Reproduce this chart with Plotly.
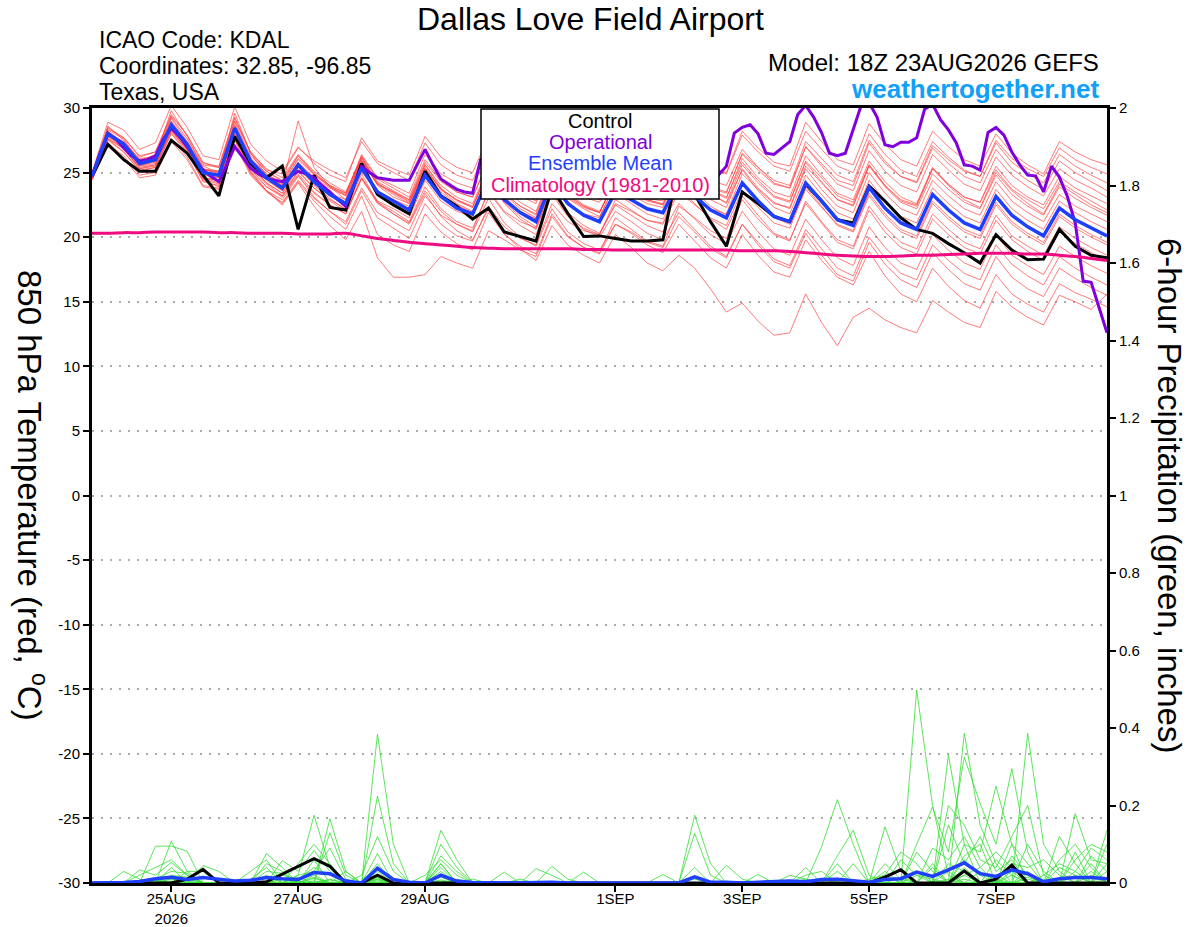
import pandas as pd
import plotly.graph_objects as go

# ---------------- time axis ----------------
START = "2026-08-23 18:00"
times = pd.date_range(START, periods=65, freq="6h")
times_op = pd.date_range(START, periods=129, freq="3h")

# ---------------- 850 hPa temperature (deg C) ----------------
ens_mean_t = [
    24.7, 28.0, 27.2, 25.7, 26.0, 28.7, 27.2, 25.0, 24.8, 28.45, 25.9, 24.6, 23.8,
    25.6, 24.3, 23.3, 22.6, 25.35, 23.5, 22.8, 22.1, 24.8, 23.15, 22.25, 21.8, 24.6,
    22.9, 21.9, 21.2, 24.3, 22.6, 21.7, 21.2, 23.5, 22.9, 22.2, 21.9, 24.3, 23.2,
    22.1, 21.5, 24.2, 22.8, 21.6, 21.2, 24.2, 22.8, 21.35, 20.9, 23.85, 22.25, 21.1,
    20.6, 23.3, 22.1, 21.1, 20.6, 23.15, 21.7, 20.8, 20.1, 22.25, 21.35, 20.7, 20.1,
]

control_t = [
    24.7, 27.2, 26.0, 25.1, 25.1, 27.5, 26.5, 24.8, 23.2, 27.8, 25.7, 24.6, 25.5,
    20.6, 24.8, 22.3, 22.1, 25.7, 23.3, 22.5, 21.8, 25.1, 23.2, 22.4, 21.4, 22.25,
    20.4, 20.05, 19.7, 23.8, 21.85, 20.05, 20.1, 19.9, 19.7, 19.7, 19.8, 25.7, 23.3,
    21.2, 19.3, 23.5, 22.6, 21.6, 21.2, 24.1, 22.8, 21.35, 21.1, 23.95, 22.8, 21.5,
    20.6, 20.3, 19.5, 18.8, 18.0, 20.2, 19.0, 18.25, 18.3, 20.6, 19.3, 18.6, 18.4,
]

# operational run, 3-hourly
operational_t = [
    24.7, 26.5, 28.05, 27.6, 26.9, 26.3, 25.9, 26.0, 26.3, 27.6, 28.45, 27.8, 27.0, 26.1, 25.2, 24.7,
    24.3, 25.6, 27.0, 26.2, 25.35, 24.9, 24.6, 24.4, 24.3, 24.7, 25.1, 24.9, 24.6, 24.0, 23.5, 22.9,
    22.4, 24.0, 25.5, 25.0, 24.6, 24.5, 24.4, 24.4, 24.4, 25.6, 26.8, 25.6, 24.5, 24.1, 23.7, 23.5,
    23.4, 26.0, 26.5, 25.8, 25.2, 24.9, 24.6, 24.4, 24.2, 25.7, 27.2, 26.4, 25.6, 25.2, 24.9, 24.7,
    24.5, 25.5, 26.6, 25.9, 25.3, 25.0, 24.7, 24.4, 24.2, 25.2, 26.2, 25.7, 25.3, 25.0, 24.9, 24.8,
    25.5, 28.06, 28.5, 28.7, 28.0, 26.5, 26.4, 26.9, 27.4, 29.5, 30.2, 29.3, 28.1, 26.5, 26.3, 26.5,
    28.4, 30.2, 30.4, 29.3, 27.15, 27.0, 27.35, 27.35, 27.7, 29.9, 30.3, 29.1, 28.3, 27.3, 25.6, 25.5,
    25.2, 28.1, 28.5, 27.9, 26.6, 25.6, 24.8, 24.75, 23.5, 25.5, 24.65, 23.15, 21.1, 16.6, 16.5, 14.6,
    12.6,
]

climatology_t = [
    20.3, 20.3, 20.35, 20.35, 20.4, 20.4, 20.4, 20.4, 20.35, 20.35, 20.3, 20.3, 20.3,
    20.25, 20.25, 20.25, 20.3, 20.1, 19.9, 19.75, 19.6, 19.5, 19.4, 19.3, 19.2, 19.15,
    19.1, 19.1, 19.1, 19.1, 19.1, 19.05, 19.05, 19.0, 19.0, 19.0, 19.0, 19.0, 19.0,
    19.0, 19.0, 18.95, 18.95, 18.95, 18.9, 18.8, 18.7, 18.6, 18.55, 18.5, 18.5, 18.55,
    18.6, 18.6, 18.65, 18.7, 18.75, 18.75, 18.75, 18.7, 18.7, 18.6, 18.5, 18.35, 18.2,
]

temp_members = [
    [24.8, 28.3, 27.6, 25.9, 26.4, 29.2, 27.4, 25.5, 25.0, 28.9, 26.3, 25.1, 24.3,
     26.3, 25.0, 24.0, 23.4, 26.3, 24.5, 23.8, 23.1, 26.0, 24.4, 23.5, 23.1, 26.0,
     24.4, 23.4, 22.8, 25.9, 24.2, 23.3, 22.9, 25.2, 24.6, 24.0, 23.7, 26.4, 25.4,
     24.4, 24.0, 26.8, 25.4, 24.2, 23.8, 27.0, 25.5, 24.1, 23.6, 26.7, 25.1, 24.0,
     23.5, 26.4, 25.2, 24.1, 23.6, 26.2, 24.8, 23.9, 23.2, 25.3, 24.4, 23.8, 23.1],
    [24.6, 27.6, 26.9, 25.3, 25.6, 28.2, 26.8, 24.6, 24.4, 27.9, 25.4, 24.1, 23.2,
     24.9, 23.5, 22.5, 21.8, 24.5, 22.6, 21.8, 21.1, 23.6, 22.0, 21.0, 20.4, 23.0,
     21.1, 20.0, 19.3, 22.2, 20.4, 19.5, 19.0, 21.0, 20.3, 19.4, 18.8, 21.0, 19.7,
     18.4, 17.6, 20.2, 18.6, 17.3, 16.9, 19.8, 18.2, 16.9, 16.3, 18.9, 17.0, 15.6,
     15.0, 17.6, 16.2, 15.1, 14.5, 17.1, 15.6, 14.8, 14.2, 16.4, 15.7, 15.2, 14.6],
    [24.9, 28.6, 27.5, 25.8, 26.2, 29.8, 27.8, 25.3, 24.9, 29.6, 26.5, 24.8, 24.0,
     29.0, 25.4, 23.9, 22.9, 26.2, 24.0, 23.1, 22.6, 25.6, 23.8, 22.8, 22.3, 25.4,
     23.4, 22.4, 21.8, 25.2, 23.3, 22.4, 21.9, 24.5, 23.8, 23.0, 22.8, 25.6, 24.6,
     23.6, 23.0, 26.1, 24.6, 23.5, 23.1, 26.3, 24.8, 23.4, 22.9, 25.9, 24.3, 23.1,
     22.6, 25.4, 24.1, 23.1, 22.7, 25.2, 23.7, 22.9, 22.2, 24.3, 23.5, 22.8, 22.1],
    [24.5, 27.5, 26.6, 25.2, 25.4, 28.0, 26.5, 24.4, 23.9, 27.6, 25.0, 23.6, 22.5,
     24.2, 22.4, 20.9, 19.8, 22.0, 18.4, 16.9, 16.9, 17.1, 18.5, 18.0, 17.6, 20.5,
     19.8, 19.0, 18.5, 21.6, 20.0, 19.2, 18.8, 21.5, 20.6, 19.7, 19.3, 22.4, 21.5,
     20.5, 19.9, 22.9, 21.4, 20.2, 19.7, 22.8, 21.2, 19.8, 19.3, 22.4, 20.8, 19.6,
     19.1, 21.8, 20.6, 19.6, 19.1, 21.7, 20.1, 19.3, 18.6, 20.8, 19.9, 19.2, 18.6],
    [24.8, 28.1, 27.4, 26.0, 26.3, 29.0, 27.3, 25.3, 25.1, 28.7, 26.1, 24.9, 24.1,
     26.0, 24.8, 23.9, 23.3, 26.4, 24.6, 24.0, 23.4, 26.4, 24.9, 24.2, 23.8, 26.8,
     25.1, 24.1, 23.5, 26.7, 25.1, 24.2, 23.8, 26.3, 25.7, 25.0, 24.7, 27.4, 26.5,
     25.5, 25.0, 28.2, 26.9, 25.8, 25.5, 28.9, 27.4, 26.0, 25.6, 28.8, 27.2, 26.0,
     25.5, 28.2, 27.0, 26.0, 25.5, 28.0, 26.5, 25.6, 24.9, 27.4, 26.6, 26.0, 25.6],
    [24.7, 27.9, 27.0, 25.6, 25.8, 28.5, 27.0, 24.9, 24.6, 28.2, 25.6, 24.2, 23.4,
     25.1, 23.8, 22.8, 22.0, 24.6, 22.7, 21.8, 21.0, 23.4, 21.6, 20.5, 19.8, 22.2,
     20.3, 19.1, 18.2, 20.9, 19.4, 18.6, 18.0, 20.2, 19.2, 18.0, 17.4, 18.6, 17.6,
     16.0, 14.2, 14.9, 13.5, 12.4, 12.6, 15.6, 13.4, 11.6, 13.8, 14.5, 13.6, 13.0,
     12.6, 15.1, 14.2, 13.4, 13.0, 15.8, 14.6, 13.8, 13.2, 15.5, 15.0, 14.4, 15.6],
    [24.6, 27.8, 27.1, 25.5, 25.9, 28.4, 27.0, 24.8, 24.6, 28.3, 25.7, 24.4, 23.6,
     25.3, 24.1, 23.2, 22.4, 25.1, 23.4, 22.9, 22.1, 24.6, 23.1, 22.4, 21.9, 24.9,
     23.1, 22.0, 21.4, 24.7, 23.0, 22.2, 21.6, 24.0, 23.3, 22.6, 22.3, 25.0, 23.9,
     22.9, 22.3, 25.3, 23.8, 22.7, 22.2, 25.3, 23.7, 22.4, 21.9, 25.0, 23.4, 22.2,
     21.7, 24.4, 23.2, 22.2, 21.7, 24.3, 22.8, 21.9, 21.2, 23.3, 22.4, 21.8, 21.2],
    [24.9, 28.4, 27.7, 26.3, 26.6, 29.4, 27.9, 25.8, 25.4, 29.0, 26.6, 25.3, 24.6,
     26.4, 25.1, 24.2, 23.5, 26.1, 24.2, 23.4, 22.8, 25.4, 23.7, 22.6, 22.0, 24.6,
     22.7, 21.6, 20.8, 23.7, 21.9, 20.9, 20.3, 22.5, 21.7, 20.9, 20.4, 22.6, 21.4,
     20.2, 19.5, 22.0, 20.4, 19.1, 18.6, 21.4, 19.8, 18.4, 17.8, 20.8, 19.2, 18.0,
     17.5, 20.2, 19.0, 18.0, 17.5, 20.2, 18.6, 17.8, 17.1, 19.3, 18.5, 17.8, 17.2],
    [24.5, 27.0, 26.1, 24.6, 24.8, 27.4, 26.0, 23.9, 23.7, 27.2, 24.8, 23.5, 22.7,
     24.4, 23.0, 22.0, 21.2, 23.8, 21.9, 21.2, 20.5, 23.2, 21.7, 21.0, 20.5, 23.6,
     22.0, 21.2, 20.7, 24.0, 22.5, 21.8, 21.5, 24.2, 23.4, 22.8, 22.5, 25.4, 24.6,
     23.8, 23.4, 26.5, 25.4, 24.4, 24.0, 27.4, 26.1, 24.8, 24.3, 27.5, 25.9, 24.7,
     24.2, 26.9, 25.7, 24.7, 24.2, 26.8, 25.3, 24.4, 23.7, 25.9, 25.0, 24.3, 23.6],
    [24.8, 28.2, 27.3, 26.1, 26.2, 29.3, 27.6, 25.6, 25.4, 29.2, 26.6, 25.2, 24.9,
     26.9, 25.9, 25.2, 24.6, 27.4, 25.7, 25.0, 24.4, 27.3, 25.6, 24.8, 24.4, 27.2,
     25.5, 24.4, 23.7, 26.8, 25.0, 24.0, 23.5, 25.8, 25.0, 24.1, 23.7, 26.0, 24.7,
     23.4, 22.6, 25.2, 23.6, 22.3, 21.8, 24.8, 23.3, 21.9, 21.4, 24.4, 22.8, 21.6,
     21.1, 23.8, 22.6, 21.6, 21.1, 23.7, 22.2, 21.3, 20.6, 22.8, 21.9, 21.2, 20.6],
    [24.6, 27.9, 27.3, 25.8, 26.1, 28.6, 27.3, 25.2, 25.0, 28.4, 26.0, 24.7, 24.0,
     25.8, 24.6, 23.8, 23.2, 26.0, 24.1, 23.3, 22.6, 25.2, 23.5, 22.5, 21.9, 24.5,
     22.6, 21.4, 20.6, 23.5, 21.7, 20.6, 20.0, 22.0, 21.2, 20.3, 19.8, 21.9, 20.6,
     19.3, 18.5, 21.0, 19.4, 18.1, 17.6, 20.3, 18.6, 17.1, 16.6, 19.6, 17.9, 16.7,
     16.1, 18.8, 17.5, 16.4, 15.9, 18.5, 16.9, 16.0, 15.4, 17.6, 16.8, 16.1, 15.5],
    [24.7, 28.1, 27.0, 25.5, 25.7, 28.9, 26.9, 24.6, 24.2, 28.4, 25.3, 23.9, 23.1,
     24.8, 23.1, 22.0, 21.0, 23.6, 21.5, 20.7, 19.9, 22.6, 21.0, 20.1, 19.7, 22.4,
     20.8, 19.9, 19.4, 22.6, 21.2, 20.5, 20.2, 22.9, 22.1, 21.3, 21.1, 23.8, 23.0,
     22.2, 21.8, 24.9, 23.7, 22.6, 22.3, 25.5, 24.2, 22.9, 22.5, 25.6, 24.0, 22.8,
     22.4, 25.3, 24.1, 23.1, 22.7, 25.5, 24.0, 23.1, 22.5, 24.7, 23.8, 23.2, 22.6],
    [24.6, 27.6, 26.6, 25.1, 25.4, 28.1, 26.6, 24.3, 24.0, 27.9, 25.1, 23.9, 23.2,
     25.1, 23.8, 22.9, 22.2, 25.4, 23.6, 22.9, 22.4, 25.3, 23.7, 22.9, 22.3, 25.1,
     23.3, 22.2, 21.5, 24.6, 22.8, 21.7, 21.2, 23.4, 22.6, 21.8, 21.4, 23.8, 22.6,
     21.4, 20.6, 23.2, 21.7, 20.3, 19.8, 22.6, 21.1, 19.6, 19.1, 22.1, 20.4, 19.2,
     18.7, 21.4, 20.2, 19.2, 18.7, 21.3, 19.8, 18.9, 18.2, 20.4, 19.5, 18.8, 18.2],
    [25.0, 28.9, 28.3, 26.8, 27.3, 30.2, 28.5, 26.3, 26.0, 30.1, 27.2, 25.9, 25.1,
     27.0, 25.7, 24.8, 24.3, 27.7, 25.9, 25.3, 24.8, 27.8, 26.2, 25.4, 25.0, 27.8,
     26.0, 25.0, 24.3, 27.4, 25.6, 24.7, 24.2, 26.7, 26.0, 25.3, 25.0, 27.5, 26.5,
     25.5, 24.9, 27.9, 26.6, 25.5, 25.1, 28.2, 26.8, 25.5, 25.0, 28.0, 26.4, 25.2,
     24.7, 27.4, 26.2, 25.2, 24.7, 27.3, 25.8, 24.9, 24.2, 26.4, 25.5, 24.8, 24.2],
    [24.7, 28.0, 27.3, 25.6, 26.1, 28.8, 27.1, 25.1, 24.7, 28.6, 25.8, 24.5, 23.6,
     25.5, 24.0, 23.0, 22.1, 24.9, 22.7, 22.0, 21.2, 23.9, 22.2, 21.2, 20.7, 23.5,
     21.9, 20.9, 20.2, 23.3, 21.6, 20.7, 20.2, 22.6, 22.0, 21.3, 21.0, 23.5, 22.5,
     21.5, 20.9, 23.6, 22.3, 21.1, 20.7, 23.7, 22.3, 21.0, 20.5, 23.4, 21.8, 20.6,
     20.1, 22.8, 21.6, 20.6, 20.1, 22.7, 21.2, 20.3, 19.6, 21.8, 20.9, 20.2, 19.6],
    [24.4, 27.2, 26.3, 24.8, 25.0, 27.6, 26.2, 24.0, 23.8, 27.5, 24.9, 23.6, 22.9,
     24.7, 23.4, 22.5, 21.8, 24.6, 22.8, 22.2, 21.5, 24.4, 22.8, 22.0, 21.6, 24.6,
     22.9, 22.0, 21.4, 24.7, 23.1, 22.3, 21.9, 24.5, 23.9, 23.3, 23.1, 25.7, 24.8,
     23.9, 23.5, 26.4, 25.2, 24.1, 23.8, 27.0, 25.7, 24.4, 24.0, 27.3, 25.7, 24.7,
     24.3, 27.1, 26.0, 25.1, 24.7, 27.5, 26.1, 25.3, 24.7, 26.9, 26.0, 25.4, 24.9],
    [24.8, 28.5, 27.7, 26.2, 26.6, 29.5, 27.9, 25.7, 25.5, 29.3, 26.5, 25.1, 24.4,
     26.3, 24.9, 23.9, 23.2, 25.9, 24.1, 23.5, 22.7, 25.3, 23.7, 22.9, 22.4, 25.1,
     23.4, 22.4, 21.7, 24.9, 23.2, 22.4, 21.9, 24.3, 23.6, 22.9, 22.6, 25.3, 24.3,
     23.3, 22.7, 25.6, 24.2, 23.1, 22.7, 25.8, 24.3, 22.9, 22.4, 25.5, 23.9, 22.7,
     22.2, 24.9, 23.7, 22.7, 22.2, 24.8, 23.3, 22.4, 21.7, 23.9, 23.0, 22.3, 21.7],
    [24.6, 27.7, 26.8, 25.3, 25.5, 28.3, 26.7, 24.6, 24.4, 28.0, 25.5, 24.2, 23.4,
     25.4, 24.2, 23.4, 22.9, 25.9, 24.1, 23.5, 22.9, 25.8, 24.3, 23.5, 23.1, 25.9,
     24.2, 23.2, 22.6, 25.8, 24.0, 23.1, 22.7, 25.1, 24.4, 23.7, 23.4, 25.9, 24.8,
     23.7, 23.1, 25.8, 24.4, 23.2, 22.8, 25.9, 24.6, 23.2, 22.7, 25.6, 24.0, 22.9,
     22.5, 25.3, 24.0, 22.9, 22.3, 25.0, 23.6, 22.6, 21.8, 24.1, 23.3, 22.5, 21.9],
    [24.6, 27.8, 26.9, 25.4, 25.6, 28.3, 26.8, 24.5, 24.1, 27.9, 25.1, 23.6, 22.6,
     24.3, 22.8, 21.6, 20.6, 23.2, 20.2, 19.4, 18.9, 21.8, 20.4, 19.5, 19.0, 21.9,
     20.2, 19.3, 18.7, 21.8, 20.1, 19.2, 18.7, 21.0, 20.4, 19.6, 19.2, 21.6, 20.4,
     19.1, 18.4, 21.0, 19.6, 18.3, 17.8, 20.6, 19.1, 17.6, 17.0, 20.0, 18.4, 17.2,
     16.7, 19.4, 18.2, 17.2, 16.7, 19.4, 17.9, 17.0, 16.3, 18.5, 17.6, 16.9, 16.3],
    [24.7, 28.0, 27.0, 25.9, 26.0, 28.6, 27.1, 25.2, 25.1, 28.4, 26.1, 24.9, 24.2,
     26.1, 24.9, 24.0, 23.4, 26.2, 24.3, 23.6, 22.9, 25.6, 24.0, 23.1, 22.6, 25.4,
     23.7, 22.7, 22.0, 25.1, 23.4, 22.5, 22.0, 24.3, 23.6, 22.9, 22.5, 24.8, 23.6,
     22.4, 21.7, 24.3, 22.8, 21.5, 21.0, 23.9, 22.4, 20.9, 20.4, 23.2, 21.6, 20.4,
     19.9, 22.6, 21.4, 20.4, 19.9, 22.5, 21.0, 20.1, 19.4, 21.6, 20.7, 20.0, 19.4],
]

# ---------------- 6-hour precipitation (inches) ----------------
ens_mean_p = [
    0, 0, 0.001, 0.004, 0.011, 0.015, 0.009, 0.014, 0.009, 0.005, 0.007, 0.014, 0.011,
    0.009, 0.027, 0.024, 0.005, 0, 0.038, 0.009, 0.002, 0, 0.020, 0.005, 0.001, 0,
    0.001, 0, 0.001, 0.002, 0, 0.001, 0, 0, 0, 0, 0.001, 0, 0.016,
    0.002, 0.002, 0, 0.002, 0.004, 0.005, 0.003, 0.009, 0.010, 0.007, 0.002, 0.009, 0.011,
    0.028, 0.017, 0.034, 0.052, 0.024, 0.017, 0.034, 0.024, 0.003, 0.011, 0.014, 0.014, 0.011,
]

control_p = [
    0, 0, 0, 0, 0, 0, 0.01, 0.035, 0, 0, 0, 0.003, 0.023,
    0.042, 0.063, 0.043, 0, 0, 0.02, 0, 0, 0, 0, 0, 0, 0,
    0, 0, 0, 0, 0, 0, 0, 0, 0, 0, 0, 0, 0,
    0, 0, 0, 0, 0, 0, 0, 0, 0, 0, 0, 0.015, 0.034,
    0, 0, 0, 0.031, 0, 0.01, 0.046, 0, 0, 0, 0, 0, 0,
]

precip_members = [
    [0, 0, 0, 0, .095, .095, .082, 0, 0, 0, 0, 0, 0,
     .02, .175, .04, 0, 0, .384, .1, 0, 0, .05, 0, 0, 0,
     0, 0, 0, 0, 0, 0, 0, 0, 0, 0, 0, 0, .175,
     .05, 0, 0, 0, 0, 0, 0, 0, .05, 0, 0, 0, 0,
     .498, .2, .02, 0, 0, 0, .1, .05, 0, 0, 0, .03, 0],
    [0, 0, 0, 0, 0, .108, .03, 0, 0, 0, 0, .076, .04,
     0, 0, .166, .03, 0, .224, .05, 0, 0, .136, .06, 0, 0,
     0, 0, 0, 0, 0, 0, 0, 0, 0, 0, 0, 0, .128,
     .02, 0, 0, 0, 0, 0, 0, .093, .215, .1, 0, .02, 0,
     0, 0, 0, .386, .15, .05, 0, 0, 0, 0, .179, .06, .05],
    [0, 0, 0, .034, .02, .053, .02, 0, 0, 0, 0, 0, .058,
     .03, .084, .03, 0, 0, .076, 0, 0, 0, .1, .04, 0, 0,
     .028, 0, 0, 0, 0, 0, 0, 0, 0, 0, 0, 0, 0,
     0, 0, 0, 0, 0, 0, .04, 0, 0, 0, 0, .145, .03,
     0, 0, .33, .1, 0, 0, 0, .386, .1, .03, 0, 0, .136],
    [0, 0, .03, .01, 0, .04, 0, .045, .03, 0, 0, .05, .03,
     0, 0, .13, .02, 0, .05, 0, 0, 0, .05, 0, 0, 0,
     0, 0, .037, .02, 0, 0, 0, 0, 0, 0, 0, 0, 0,
     0, .046, .01, 0, 0, 0, 0, 0, 0, 0, 0, 0, 0,
     .1, .196, .08, .325, .205, .1, .295, .08, 0, 0, .06, .1, .08],
    [0, 0, 0, 0, 0, 0, .03, .03, 0, 0, .03, .06, 0,
     .05, .1, .05, 0, .02, .12, .03, 0, 0, .07, .03, 0, 0,
     0, 0, 0, .043, .01, 0, 0, 0, 0, 0, 0, 0, 0,
     0, 0, 0, .022, 0, 0, 0, 0, 0, 0, .01, .02, .08,
     .05, 0, .2, .15, .06, .04, .12, .2, .02, 0, .03, .09, .06],
    [0, 0, 0, 0, 0, .02, .015, 0, 0, 0, 0, 0, .02,
     .01, .04, .02, 0, 0, .03, 0, 0, 0, .03, 0, 0, 0,
     0, 0, 0, 0, 0, .028, 0, 0, 0, 0, .022, 0, 0,
     0, 0, 0, 0, 0, .02, .01, 0, 0, 0, 0, 0, .06,
     .02, 0, 0, .1, .08, .25, .1, 0, 0, .12, .05, 0, .03],
    [0, 0, 0, 0, .01, .03, .025, 0, 0, 0, 0, .03, .025,
     0, .06, 0, .03, 0, .04, 0, 0, .02, .06, .02, 0, 0,
     0, 0, 0, 0, 0, 0, 0, 0, 0, 0, 0, 0, .04,
     0, 0, 0, 0, 0, 0, 0, 0, .07, .136, .02, 0, 0,
     0, .05, 0, .07, .1, 0, .05, .04, .06, .02, 0, .05, 0],
    [0, 0, 0, .02, .04, .06, .02, 0, 0, 0, .01, .04, 0,
     .02, .03, .09, .01, 0, 0, 0, 0, 0, .04, 0, .01, 0,
     0, .01, 0, 0, 0, 0, 0, 0, 0, 0, 0, 0, 0,
     0, 0, 0, 0, 0, 0, .02, .03, 0, 0, 0, 0, 0,
     0, .09, .06, .12, .04, .08, .04, 0, 0, .06, .1, .04, 0],
    [0, 0, 0, 0, 0, .012, 0, 0, 0, 0, 0, 0, 0,
     0, .02, 0, 0, 0, .015, 0, 0, 0, .02, 0, 0, 0,
     0, 0, 0, 0, 0, 0, 0, 0, 0, 0, 0, 0, .01,
     0, 0, 0, 0, 0, 0, 0, 0, 0, 0, 0, .03, 0,
     .08, .03, 0, .04, 0, .02, 0, .1, .03, 0, 0, 0, 0],
    [0, 0, 0, 0, .005, 0, .01, 0, 0, 0, 0, 0, .01,
     0, .015, 0, 0, 0, .01, 0, 0, 0, 0, .01, 0, 0,
     0, 0, 0, 0, 0, 0, 0, 0, 0, 0, 0, 0, 0,
     0, 0, 0, 0, 0, 0, 0, .01, 0, .05, 0, .05, .01,
     0, 0, .15, .05, .12, .03, .06, 0, .01, 0, .08, 0, .05],
    [0, 0, 0, 0, 0, .01, 0, 0, 0, 0, 0, .02, 0,
     .015, 0, 0, 0, 0, .02, 0, 0, 0, .015, 0, 0, 0,
     0, 0, 0, 0, 0, 0, 0, 0, 0, 0, 0, 0, 0,
     0, 0, 0, 0, 0, 0, 0, 0, .03, 0, 0, 0, 0,
     0, 0, .05, .03, 0, 0, .07, .02, 0, 0, 0, .02, 0],
    [0, 0, 0, 0, .008, 0, 0, 0, 0, 0, 0, 0, 0,
     0, .012, 0, 0, 0, .005, 0, 0, 0, 0, 0, 0, 0,
     0, 0, 0, 0, 0, 0, 0, 0, 0, 0, 0, 0, 0,
     0, 0, 0, 0, 0, 0, .01, 0, 0, 0, 0, 0, 0,
     .03, 0, 0, .06, .02, 0, 0, .03, 0, .04, .02, 0, 0],
    [0, 0, 0, 0, 0, 0, .005, 0, 0, 0, 0, 0, 0,
     0, 0, .01, 0, 0, 0, 0, 0, 0, .008, 0, 0, 0,
     0, 0, 0, 0, 0, 0, 0, 0, 0, 0, 0, 0, 0,
     0, 0, 0, 0, 0, 0, 0, 0, 0, 0, 0, .02, 0,
     0, .04, 0, 0, 0, .06, .02, 0, 0, 0, 0, 0, .1],
    [0, 0, 0, 0, 0, .005, 0, 0, 0, 0, 0, 0, .01,
     0, 0, 0, 0, 0, .012, 0, 0, 0, 0, 0, 0, 0,
     0, 0, 0, 0, 0, 0, 0, 0, 0, 0, 0, 0, 0,
     0, 0, 0, 0, 0, 0, 0, 0, 0, 0, 0, 0, 0,
     0, 0, 0, .02, .04, 0, 0, 0, .02, .05, .03, 0, 0],
    [0, 0, 0, 0, 0, 0, 0, 0, 0, 0, 0, 0, 0,
     0, .005, 0, 0, 0, 0, 0, 0, 0, 0, .005, 0, 0,
     0, 0, 0, 0, 0, 0, 0, 0, 0, 0, 0, 0, 0,
     0, 0, 0, 0, 0, 0, 0, 0, 0, 0, 0, 0, 0,
     0, 0, .03, 0, 0, 0, .03, 0, 0, 0, 0, .07, .03],
    [0, 0, 0, 0, 0, .003, 0, 0, 0, 0, 0, 0, 0,
     0, 0, 0, 0, 0, .008, 0, 0, 0, 0, 0, 0, 0,
     0, 0, 0, 0, 0, 0, 0, 0, 0, 0, 0, 0, 0,
     0, 0, 0, 0, 0, 0, 0, 0, 0, 0, 0, 0, 0,
     .02, .01, 0, 0, .03, 0, 0, .015, 0, 0, 0, 0, 0],
    [0, 0, 0, 0, 0, 0, 0, 0, 0, 0, 0, 0, 0,
     0, 0, .008, 0, 0, 0, 0, 0, 0, 0, 0, 0, 0,
     0, 0, 0, 0, 0, 0, 0, 0, 0, 0, 0, 0, 0,
     0, 0, 0, 0, 0, 0, 0, 0, 0, 0, 0, 0, .015,
     0, 0, 0, .02, 0, .01, 0, 0, 0, 0, .02, 0, 0],
    [0, 0, 0, 0, 0, 0, 0, 0, 0, 0, 0, 0, 0,
     .004, 0, 0, 0, 0, 0, 0, 0, 0, 0, 0, 0, 0,
     0, 0, 0, 0, 0, 0, 0, 0, 0, 0, 0, 0, 0,
     0, 0, 0, 0, 0, 0, 0, 0, 0, 0, 0, 0, 0,
     0, 0, .01, 0, 0, 0, .02, 0, 0, 0, 0, 0, .01],
    [0, 0, 0, 0, 0, 0, 0, 0, 0, 0, 0, 0, 0,
     0, 0, 0, 0, 0, 0, 0, 0, 0, .005, 0, 0, 0,
     0, 0, 0, 0, 0, 0, 0, 0, 0, 0, 0, 0, 0,
     0, 0, 0, 0, 0, 0, 0, 0, 0, 0, 0, 0, 0,
     0, 0, 0, .01, 0, 0, 0, .01, 0, 0, 0, 0, 0],
    [0, 0, 0, 0, 0, 0, 0, 0, 0, 0, 0, 0, 0,
     0, 0, 0, 0, 0, 0, 0, 0, 0, 0, 0, 0, 0,
     0, 0, 0, 0, 0, 0, 0, 0, 0, 0, 0, 0, 0,
     0, 0, 0, 0, 0, 0, 0, 0, 0, .005, 0, 0, 0,
     0, 0, 0, 0, 0, .005, 0, 0, 0, 0, 0, 0, 0],
]

# ---------------- axis ticks ----------------
x_tick_dates = ["2026-08-25", "2026-08-27", "2026-08-29", "2026-09-01",
                "2026-09-03", "2026-09-05", "2026-09-07"]
x_tick_labels = ["25AUG<br>2026", "27AUG", "29AUG", "1SEP", "3SEP", "5SEP", "7SEP"]
temp_ticks = [-30, -25, -20, -15, -10, -5, 0, 5, 10, 15, 20, 25, 30]
temp_tick_labels = ["-30", "-25", "-20", "-15", "-10", "-5", "0", "5", "10", "15", "20", "25", "30"]
precip_ticks = [0, 0.2, 0.4, 0.6, 0.8, 1.0, 1.2, 1.4, 1.6, 1.8, 2.0]
precip_tick_labels = ["0", "0.2", "0.4", "0.6", "0.8", "1", "1.2", "1.4", "1.6", "1.8", "2"]

bad = [(k, len(m)) for k, m in enumerate(temp_members) if len(m) != 65]
bad += [("p", k, len(m)) for k, m in enumerate(precip_members) if len(m) != 65]
for name, arr in [("mean", ens_mean_t), ("ctl", control_t), ("clim", climatology_t),
                  ("pm", ens_mean_p), ("pc", control_p)]:
    if len(arr) != 65:
        bad.append((name, len(arr)))
if len(operational_t) != 129:
    bad.append(("op", len(operational_t)))
if bad:
    raise SystemExit("length problems: %s" % bad)

# ---------------- colours ----------------
RED = "rgba(255,60,60,0.85)"
GREEN = "#33dd33"
BLUE = "#1f3fff"
PURPLE = "#7f00dc"
PINK = "#ee0a80"
FONT = "Liberation Sans, Arial, Helvetica, sans-serif"

fig = go.Figure()

for m in temp_members:
    fig.add_trace(go.Scatter(x=times, y=m, mode="lines",
                             line=dict(color=RED, width=0.8), yaxis="y",
                             hoverinfo="skip", showlegend=False))
for m in precip_members:
    fig.add_trace(go.Scatter(x=times, y=m, mode="lines",
                             line=dict(color=GREEN, width=0.8), yaxis="y2",
                             hoverinfo="skip", showlegend=False))

fig.add_trace(go.Scatter(x=times, y=control_t, mode="lines",
                         line=dict(color="black", width=3), yaxis="y", showlegend=False))
fig.add_trace(go.Scatter(x=times_op, y=operational_t, mode="lines",
                         line=dict(color=PURPLE, width=3), yaxis="y", showlegend=False))
fig.add_trace(go.Scatter(x=times, y=ens_mean_t, mode="lines",
                         line=dict(color=BLUE, width=3.5), yaxis="y", showlegend=False))
fig.add_trace(go.Scatter(x=times, y=climatology_t, mode="lines", line_shape="spline",
                         line=dict(color=PINK, width=3), yaxis="y", showlegend=False))
fig.add_trace(go.Scatter(x=times, y=control_p, mode="lines",
                         line=dict(color="black", width=3), yaxis="y2", showlegend=False))
fig.add_trace(go.Scatter(x=times, y=ens_mean_p, mode="lines",
                         line=dict(color=BLUE, width=3.5), yaxis="y2", showlegend=False))

# ---------------- layout ----------------
# the page body margin is removed by a post script, so the figure fills the window
W, H = 1200, 927
L, T = 92, 108
R = W - 1107
B = H - 883
PW, PH = W - L - R, H - T - B


def px(x):
    # page x -> paper coordinate
    return (x - L) / PW


def py(y):
    # page y -> paper coordinate
    return (H - B - y) / PH


fig.update_layout(
    width=W, height=H,
    margin=dict(l=L, r=R, t=T, b=B, pad=0, autoexpand=False),
    paper_bgcolor="white", plot_bgcolor="white",
    font=dict(family=FONT, color="black", size=15),
    showlegend=False,
    xaxis=dict(
        type="date", range=[times[0], times[-1]],
        tickvals=x_tick_dates, ticktext=x_tick_labels,
        ticks="outside", ticklen=6, tickwidth=1.5, tickcolor="black",
        ticklabelstandoff=-6,
        showline=True, linewidth=3, linecolor="black", mirror=True,
        showgrid=False, zeroline=False, tickfont=dict(size=15), automargin=False,
    ),
    yaxis=dict(
        range=[-30, 30], tickvals=temp_ticks, ticktext=temp_tick_labels,
        ticks="outside", ticklen=6, tickwidth=1.5, tickcolor="black",
        showline=True, linewidth=3, linecolor="black",
        showgrid=True, gridcolor="#aaaaaa", griddash="2px,7px", gridwidth=1.5,
        zeroline=False, tickfont=dict(size=15), automargin=False,
    ),
    yaxis2=dict(
        range=[0, 2], overlaying="y", side="right",
        tickvals=precip_ticks, ticktext=precip_tick_labels,
        ticks="outside", ticklen=6, tickwidth=1.5, tickcolor="black",
        showline=True, linewidth=3, linecolor="black",
        showgrid=False, zeroline=False, tickfont=dict(size=15), automargin=False,
    ),
)

# legend box
fig.add_shape(type="rect", xref="paper", yref="paper",
              x0=px(481), x1=px(719), y0=py(199), y1=py(109),
              fillcolor="white", line=dict(color="black", width=1.5), layer="above")

legend_items = [("Control", "black", 121), ("Operational", PURPLE, 142),
                ("Ensemble Mean", BLUE, 163), ("Climatology (1981-2010)", PINK, 185)]
annotations = []
for text, col, yy in legend_items:
    annotations.append(dict(text=text, x=px(600), y=py(yy), xref="paper", yref="paper",
                            xanchor="center", yanchor="middle", showarrow=False,
                            font=dict(size=20, color=col, family=FONT)))

annotations += [
    dict(text="Dallas Love Field Airport", x=px(590), y=py(19), xanchor="center",
         yanchor="middle", font=dict(size=32)),
    dict(text="ICAO Code: KDAL", x=px(97), y=py(40), xanchor="left",
         yanchor="middle", font=dict(size=23)),
    dict(text="Coordinates: 32.85, -96.85", x=px(97), y=py(66), xanchor="left",
         yanchor="middle", font=dict(size=23)),
    dict(text="Texas, USA", x=px(97), y=py(92), xanchor="left",
         yanchor="middle", font=dict(size=23)),
    dict(text="Model: 18Z 23AUG2026 GEFS", x=px(1101), y=py(63), xanchor="right",
         yanchor="middle", font=dict(size=24)),
    dict(text="<b>weathertogether.net</b>", x=px(1101), y=py(89), xanchor="right",
         yanchor="middle", font=dict(size=26, color="#0fa0fa")),
    dict(text="850 hPa Temperature (red, <sup>o</sup>C)", x=px(32), y=py(495),
         xanchor="center", yanchor="middle", textangle=90, font=dict(size=33)),
    dict(text="6-hour Precipitation (green, inches)", x=px(1170), y=py(495),
         xanchor="center", yanchor="middle", textangle=90, font=dict(size=33)),
]
for a in annotations[len(legend_items):]:
    a.update(xref="paper", yref="paper", showarrow=False)
    a["font"] = dict(family=FONT, color=a["font"].get("color", "black"),
                     size=a["font"]["size"])
fig.update_layout(annotations=annotations)

fig.write_html("out.html",
               config={"displayModeBar": False},
               post_script="document.body.style.margin='0px';document.body.style.overflow='hidden';")
